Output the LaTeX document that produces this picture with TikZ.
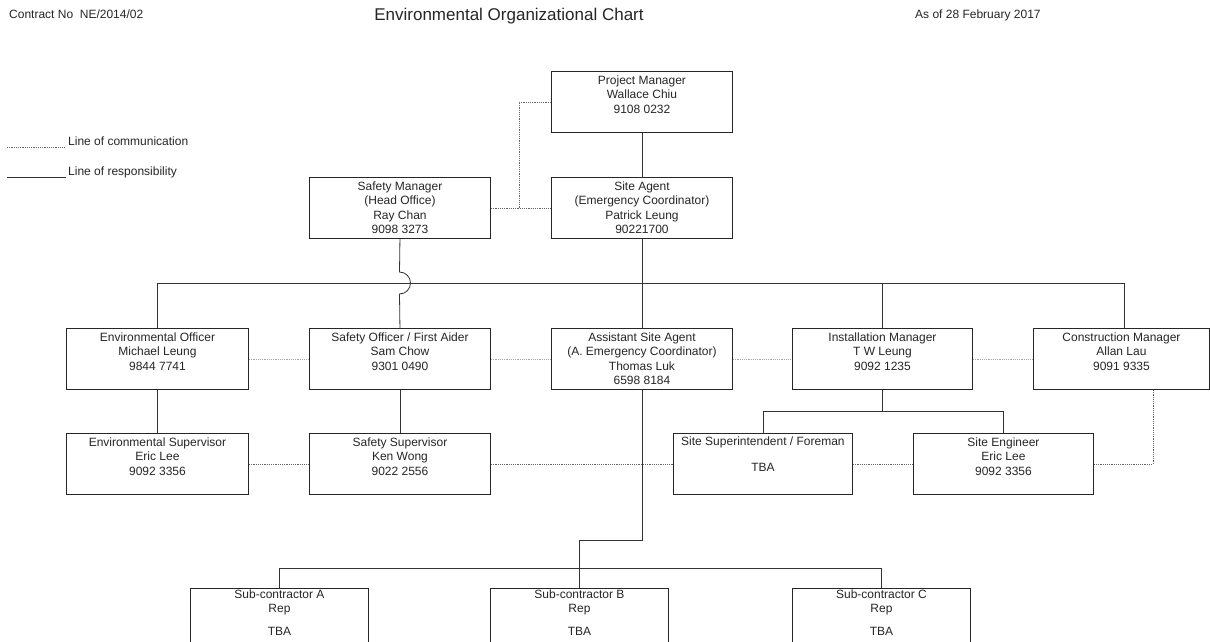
\documentclass[tikz,border=0pt]{standalone}
\usepackage{fontspec}
\setmainfont{Liberation Sans}
\newcommand{\bxt}[4][13pt]{\parbox[c][#3pt][t]{#2pt}{\centering\rule{0pt}{#1}#4}}
\tikzset{
  box/.style={draw=black!85, line width=0.9pt, inner sep=0pt, anchor=north west,
    font=\fontsize{12}{14.5}\selectfont, text=black!85},
  resp/.style={draw=black!80, line width=0.8pt},
  comm/.style={draw=black!60, line width=0.8pt, dash pattern=on 1.2pt off 1pt},
  comml/.style={comm, draw=black!35},
  plain/.style={inner sep=0pt, text=black!85, font=\fontsize{12}{14}\selectfont}
}
\begin{document}
\begin{tikzpicture}[x=1pt,y=-1pt]
\clip (0,0) rectangle (1210,642);
\fill[white] (0,0) rectangle (1210,642);

% header
\node[plain, anchor=base west] (contract) at (9,19) {Contract No\ \ NE/2014/02};
\node[plain, anchor=base, font=\fontsize{17}{20}\selectfont] (title) at (509,21) {Environmental Organizational Chart};
\node[plain, anchor=base west] (date) at (915,19) {As of 28 February 2017};

% legend
\coordinate (lc1) at (7,147);
\coordinate (lc2) at (66,147);
\coordinate (lr1) at (7,177);
\coordinate (lr2) at (66,177);
\draw[comm] (lc1) -- (lc2);
\draw[resp] (lr1) -- (lr2);
\node[plain, anchor=base west] (lcomm) at (68,145) {Line of communication};
\node[plain, anchor=base west] (lresp) at (68,175) {Line of responsibility};

% top
\node[box] (PM) at (551,71) {\bxt{181}{61}{Project Manager\\Wallace Chiu\\9108 0232}};
\node[box] (SM) at (309,177) {\bxt{181}{61}{Safety Manager\\(Head Office)\\Ray Chan\\9098 3273}};
\node[box] (SA) at (551,177) {\bxt{181}{61}{Site Agent\\(Emergency Coordinator)\\Patrick Leung\\90221700}};

% middle row
\node[box] (EO) at (66,328) {\bxt{182}{61}{Environmental Officer\\Michael Leung\\9844 7741}};
\node[box] (SO) at (309,328) {\bxt{181}{61}{Safety Officer / First Aider\\Sam Chow\\9301 0490}};
\node[box] (AS) at (551,328) {\bxt{181}{61}{Assistant Site Agent\\(A. Emergency Coordinator)\\Thomas Luk\\6598 8184}};
\node[box] (IM) at (792,328) {\bxt{180}{61}{Installation Manager\\T W Leung\\9092 1235}};
\node[box] (CM) at (1033,328) {\bxt{176}{61}{Construction Manager\\Allan Lau\\9091 9335}};

% lower row
\node[box] (ES) at (66,433) {\bxt{182}{61}{Environmental Supervisor\\Eric Lee\\9092 3356}};
\node[box] (SS) at (309,433) {\bxt{181}{61}{Safety Supervisor\\Ken Wong\\9022 2556}};
\node[box] (SU) at (673,433) {\bxt[12pt]{179}{61}{Site Superintendent / Foreman\\[12pt]TBA}};
\node[box] (SE) at (913,433) {\bxt{180}{61}{Site Engineer\\Eric Lee\\9092 3356}};

% sub-contractors
\node[box] (CA) at (190,588) {\bxt[10pt]{178}{62}{Sub-contractor A\\Rep\\[8pt]TBA}};
\node[box] (CB) at (490,588) {\bxt[10pt]{178}{62}{Sub-contractor B\\Rep\\[8pt]TBA}};
\node[box] (CC) at (792,588) {\bxt[10pt]{178}{62}{Sub-contractor C\\Rep\\[8pt]TBA}};

% coordinates
\coordinate (commx) at (519,0);
\coordinate (bus) at (0,283);
\coordinate (busR) at (1124,283);
\coordinate (hop) at (399.5,272);
\coordinate (ib) at (0,411);
\coordinate (cc) at (1153,0);
\coordinate (jog) at (0,540);
\coordinate (subbus) at (0,568);

% responsibility lines
\draw[resp] (PM.south) -- (SA.north);
\draw[resp] (SA.south) -- (AS.north);
\draw[resp] (EO.north) -- (EO.north |- bus) -- (busR) -- (busR |- CM.north);
\draw[resp] (IM.north) -- (IM.north |- bus);
\draw[resp] (SM.south) -- (hop) arc[start angle=-90, end angle=90, radius=11] -- (SO.north);
\draw[resp] (EO.south) -- (ES.north);
\draw[resp] (SO.south) -- (SS.north);
\draw[resp] (IM.south) -- (IM.south |- ib) -- (SU.north |- ib) -- (SU.north);
\draw[resp] (IM.south |- ib) -- (SE.north |- ib) -- (SE.north);
\draw[resp] (AS.south) -- (AS.south |- jog) -- (CB.north |- jog) -- (CB.north);
\draw[resp] (CA.north) -- (CA.north |- subbus) -- (CC.north |- subbus) -- (CC.north);

% communication lines
\draw[comm] (PM.west) -- (PM.west -| commx) -- (SM.east -| commx);
\draw[comm] (SM.east) -- (SA.west);
\draw[comml] (EO.east) -- (SO.west);
\draw[comml] (SO.east) -- (AS.west);
\draw[comml] (AS.east) -- (IM.west);
\draw[comml] (IM.east) -- (CM.west);
\draw[comm] (ES.east) -- (SS.west);
\draw[comm] (SS.east) -- (SU.west);
\draw[comm] (SU.east) -- (SE.west);
\draw[comm] (CM.south -| cc) -- (SE.east -| cc) -- (SE.east);
\end{tikzpicture}
\end{document}
